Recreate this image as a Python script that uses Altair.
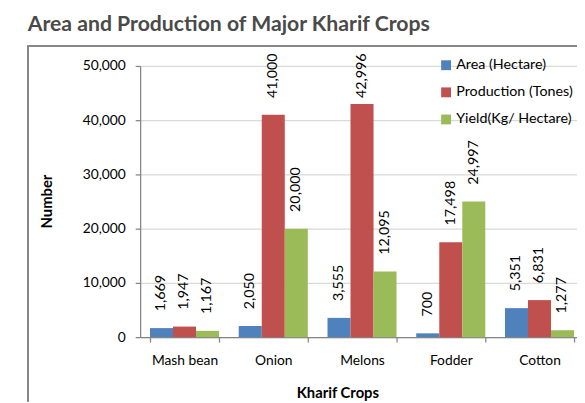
import altair as alt
import pandas as pd

crops = ["Mash bean", "Onion", "Melons", "Fodder", "Cotton"]
series = ["Area (Hectare)", "Production (Tones)", "Yield(Kg/ Hectare)"]
area = [1669, 2050, 3555, 700, 5351]
production = [1947, 41000, 42996, 17498, 6831]
yield_kg = [1167, 20000, 12095, 24997, 1277]
colors = ["#4F81BD", "#C0504D", "#9BBB59"]
y_ticks = [0, 10000, 20000, 30000, 40000, 50000]

rows = []
for vals, s in zip([area, production, yield_kg], series):
    for c, v in zip(crops, vals):
        rows.append({"crop": c, "series": s, "value": v})
df = pd.DataFrame(rows)

FONT = "Lato"

x_enc = alt.X(
    "crop:N", sort=crops, title="Kharif Crops",
    scale=alt.Scale(range=[0, 450], paddingInner=0.222, paddingOuter=0.111),
    axis=alt.Axis(labelAngle=0, tickBand="extent", tickSize=5, tickColor="#868686",
                  tickWidth=1.3, domainColor="#868686", domainWidth=1.3,
                  labelFont=FONT, labelFontSize=14, labelColor="#000000", labelPadding=12,
                  titleFont=FONT, titleFontSize=15, titleFontWeight="bold", titleColor="#000000",
                  titleX=200, titleY=56, titleBaseline="middle", titleAlign="center"),
)
xo_enc = alt.XOffset("series:N", sort=series, scale=alt.Scale(paddingInner=0, paddingOuter=0))
y_axis = alt.Axis(values=y_ticks, format=",.0f", tickSize=5, tickColor="#868686", tickWidth=1.3,
                  domainColor="#868686", domainWidth=1.3, gridColor="#d9d9d9", gridWidth=1.3,
                  labelFont=FONT, labelFontSize=14, labelColor="#000000", labelPadding=10,
                  titleFont=FONT, titleFontSize=15, titleFontWeight="bold", titleColor="#000000",
                  titleAngle=270, titleX=-95, titleY=137, titleBaseline="middle", titleAlign="center")
y_scale = alt.Scale(domain=[0, 50000], nice=False)
y_enc = alt.Y("value:Q", title="Number", scale=y_scale, axis=y_axis)
color_enc = alt.Color(
    "series:N", sort=series,
    scale=alt.Scale(domain=series, range=colors),
    legend=alt.Legend(title=None, orient="none", legendX=303, legendY=-8,
                      symbolType="square", symbolSize=100, symbolStrokeWidth=0,
                      labelFont=FONT, labelFontSize=14.5, labelColor="#000000",
                      labelOffset=3, rowPadding=12.5),
)

base = alt.Chart(df)
bars = base.mark_bar().encode(x=x_enc, xOffset=xo_enc, y=y_enc, color=color_enc)
labels = base.transform_calculate(
    label_y="min(datum.value, 41000)"
).mark_text(angle=270, align="left", baseline="middle", dx=17,
            font=FONT, fontSize=14.5, color="#000000").encode(
    x=x_enc, xOffset=xo_enc,
    y=alt.Y("label_y:Q", title="Number", scale=y_scale, axis=y_axis),
    text=alt.Text("value:Q", format=","),
)

frame_left = alt.Chart(df).mark_rule(color="#888888", strokeWidth=1.3).encode(
    x=alt.value(-114), y=alt.value(-20), y2=alt.value(340))
frame_top = alt.Chart(df).mark_rule(color="#888888", strokeWidth=1.3).encode(
    x=alt.value(-114), x2=alt.value(450), y=alt.value(-20))

chart = alt.layer(bars, labels, frame_left, frame_top).properties(
    width=443, height=275,
    autosize="none",
    padding={"left": 134, "top": 56, "right": 0, "bottom": 64},
    title=alt.TitleParams("Area and Production of Major Kharif Crops", anchor="start",
                          frame="group", dx=-114, dy=-6, font=FONT, fontSize=21.5,
                          fontWeight="bold", color="#4a4a4a"),
).configure_view(stroke=None)

chart.save("out.html", embed_options={"renderer": "svg", "actions": False})
